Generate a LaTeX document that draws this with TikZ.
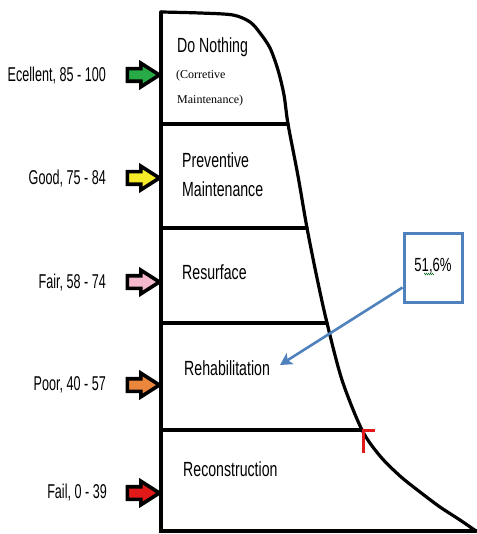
\documentclass[tikz,border=0pt]{standalone}
\usepackage{fontspec}
\setmainfont{Liberation Sans}
\newfontfamily\labfont[FakeStretch=0.63]{Liberation Sans}
\newfontfamily\stagefont[FakeStretch=0.69]{Liberation Sans}
\newfontfamily\seriffont{Liberation Serif}
\usetikzlibrary{shapes.arrows,arrows.meta,decorations.pathmorphing}
\definecolor{boxblue}{RGB}{79,129,189}
\definecolor{agreen}{RGB}{40,170,70}
\definecolor{ayellow}{RGB}{245,235,40}
\definecolor{apink}{RGB}{245,185,205}
\definecolor{aorange}{RGB}{235,135,60}
\definecolor{ared}{RGB}{225,25,25}
\begin{document}
\begin{tikzpicture}[x=1pt,y=-1pt,
  thick line/.style={line width=3.2pt,line cap=round},
  condarrow/.style={single arrow,draw=black,line width=3.6pt,inner sep=0pt,
    inner ysep=4.5pt,minimum height=32pt,single arrow head extend=5.5pt,
    single arrow tip angle=65,shape border rotate=0},
  lab/.style={font=\labfont\fontsize{20}{20}\selectfont,anchor=east,inner sep=0pt},
  stage/.style={font=\stagefont\fontsize{20.5}{20.5}\selectfont,anchor=west,inner sep=0pt},
  serifnote/.style={font=\seriffont\fontsize{12}{12}\selectfont,anchor=west,inner sep=0pt}]
\useasboundingbox (0,0) rectangle (476,534);

% frame
\coordinate (top) at (161,12);
\coordinate (bot) at (161,531);
\coordinate (br) at (476,531);
\draw[thick line] (top) -- (bot) -- (br);
\draw[thick line] plot[smooth,tension=0.5] coordinates {(161,12) (200,13) (233,15) (250,22) (260,33) (270,48) (278,70) (284,95) (288,124) (298,176) (307,228) (317,278) (327,323) (342,380) (362,430) (380,456) (400,476) (420,492) (440,507) (460,520) (476,531)};

% dividers
\coordinate (d1) at (288,124);
\coordinate (d2) at (307,228);
\coordinate (d3) at (327,323);
\coordinate (d4) at (362,430);
\foreach \d in {d1,d2,d3,d4} \draw[thick line] (161,0 |- \d) -- (\d);

% stage texts
\node[stage] (n1) at (177,47) {Do Nothing};
\node[serifnote] (n1a) at (176,76) {(Corretive};
\node[serifnote] (n1b) at (177,101) {Maintenance)};
\node[stage] (n2a) at (182,160) {Preventive};
\node[stage] (n2b) at (182,189) {Maintenance};
\node[stage] (n3) at (182,272) {Resurface};
\node[stage] (n4) at (184,368) {Rehabilitation};
\node[stage] (n5) at (183,469) {Reconstruction};

% condition labels and arrows
\node[lab] (l1) at (106,76) {Ecellent, 85 - 100};
\node[lab] (l2) at (106,179) {Good, 75 - 84};
\node[lab] (l3) at (106,283) {Fair,  58 - 74};
\node[lab] (l4) at (106,385) {Poor, 40 - 57};
\node[lab] (l5) at (107,493) {Fail, 0 - 39};
\node[condarrow,fill=agreen] (a1) at (138.5,75) {};
\node[condarrow,fill=ayellow] (a2) at (138.5,178) {};
\node[condarrow,fill=apink] (a3) at (138.5,282) {};
\node[condarrow,fill=aorange] (a4) at (138.5,385) {};
\node[condarrow,fill=ared] (a5) at (138.5,493) {};

% 51,6% box
\node[draw=boxblue,line width=3pt,minimum width=58pt,minimum height=69pt,inner sep=0pt,
  font=\stagefont\fontsize{19}{19}\selectfont] (pct) at (433,267.5) {\raisebox{6pt}{51,6\%}};
\draw[agreen!70!black,line width=0.5pt,decorate,decoration={zigzag,amplitude=0.8pt,segment length=2pt}] (424,274) -- (434,274);
\draw[boxblue,line width=2.6pt,-{Stealth[length=12pt,width=13pt,inset=3pt]}] ([yshift=-20pt]pct.west) -- (280,365);

% red mark
\coordinate (r0) at (363,453);
\coordinate (r1) at (363,430);
\coordinate (r2) at (375,430);
\draw[ared,line width=3pt] (r0) -- (r1) -- (r2);
\end{tikzpicture}
\end{document}
